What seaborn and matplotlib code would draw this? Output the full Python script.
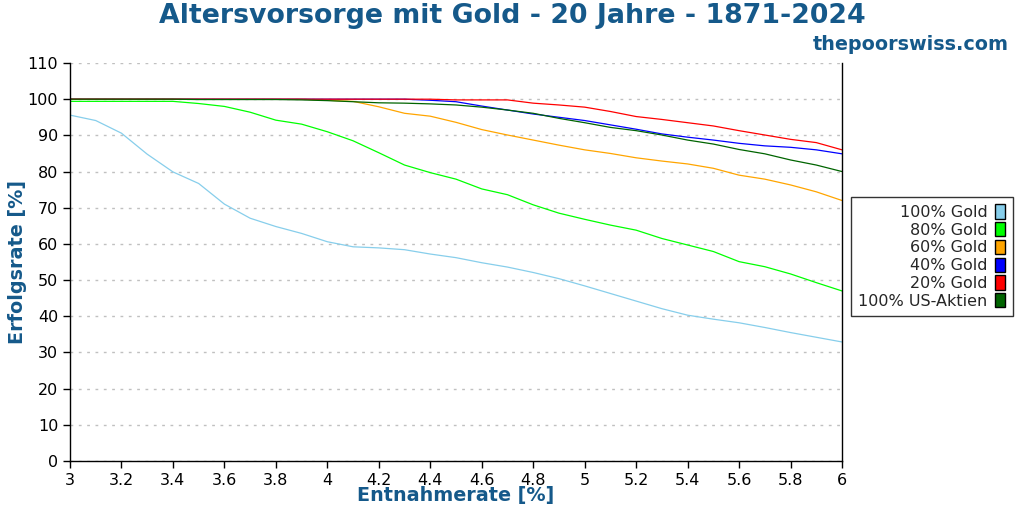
import pandas as pd
import seaborn as sns
import matplotlib.pyplot as plt
from matplotlib.patches import Patch

# Entnahmerate in 0.1 steps
rates = [3.0, 3.1, 3.2, 3.3, 3.4, 3.5, 3.6, 3.7, 3.8, 3.9,
         4.0, 4.1, 4.2, 4.3, 4.4, 4.5, 4.6, 4.7, 4.8, 4.9,
         5.0, 5.1, 5.2, 5.3, 5.4, 5.5, 5.6, 5.7, 5.8, 5.9, 6.0]

gold_100 = [95.6, 94.1, 90.6, 84.8, 79.9, 76.7, 71.0, 67.1, 64.8, 62.9,
            60.6, 59.2, 58.9, 58.4, 57.2, 56.2, 54.8, 53.6, 52.1, 50.4,
            48.4, 46.3, 44.2, 42.1, 40.3, 39.2, 38.2, 36.9, 35.5, 34.2, 32.9]
gold_80 = [99.4, 99.4, 99.4, 99.4, 99.4, 98.8, 98.0, 96.4, 94.2, 93.1,
           91.0, 88.5, 85.2, 81.8, 79.7, 77.9, 75.2, 73.6, 70.8, 68.5,
           66.8, 65.2, 63.8, 61.5, 59.7, 57.9, 55.1, 53.7, 51.7, 49.3, 47.0]
gold_60 = [100, 100, 100, 100, 100, 100, 100, 100, 100, 100,
           99.7, 99.4, 97.9, 96.1, 95.3, 93.6, 91.6, 90.1, 88.7, 87.3,
           86.0, 85.0, 83.8, 82.9, 82.1, 80.9, 79.0, 77.9, 76.3, 74.4, 72.0]
gold_40 = [100, 100, 100, 100, 100, 100, 100, 100, 100, 100,
           100, 100, 100, 100, 99.7, 99.3, 98.1, 97.0, 95.9, 95.0,
           94.1, 92.9, 91.7, 90.4, 89.5, 88.7, 87.8, 87.1, 86.7, 86.0, 84.9]
gold_20 = [100, 100, 100, 100, 100, 100, 100, 100, 100, 100,
           100, 100, 100, 100, 100, 99.8, 99.8, 99.8, 98.9, 98.4,
           97.8, 96.6, 95.2, 94.4, 93.5, 92.6, 91.3, 90.1, 88.9, 88.0, 86.0]
us_stocks = [100, 100, 100, 100, 100, 99.9, 99.9, 99.9, 99.9, 99.8,
             99.6, 99.3, 99.0, 98.9, 98.7, 98.4, 97.8, 97.0, 96.1, 94.7,
             93.5, 92.2, 91.3, 90.1, 88.7, 87.6, 86.1, 84.9, 83.2, 81.8, 80.0]

labels = ["100% Gold", "80% Gold", "60% Gold", "40% Gold", "20% Gold", "100% US-Aktien"]
colors = ["#87ceeb", "#00ff00", "#ffa500", "#0000ff", "#ff0000", "#006400"]
series = [gold_100, gold_80, gold_60, gold_40, gold_20, us_stocks]

frames = []
for name, vals in zip(labels, series):
    frames.append(pd.DataFrame({"rate": rates, "success": vals, "portfolio": name}))
df = pd.concat(frames, ignore_index=True)

sns.set_style("white")
plt.rcParams["font.family"] = ["DejaVu Sans"]

title_col = "#15598a"

fig = plt.figure(figsize=(10.24, 5.12), dpi=100)
ax = fig.add_axes([70 / 1024, 51 / 512, 772 / 1024, 398 / 512])

sns.lineplot(data=df, x="rate", y="success", hue="portfolio", hue_order=labels,
             palette=dict(zip(labels, colors)), linewidth=0.9, legend=False, ax=ax)

ax.set_xlim(3, 6)
ax.set_ylim(0, 110)
ax.set_xticks([3, 3.2, 3.4, 3.6, 3.8, 4, 4.2, 4.4, 4.6, 4.8, 5, 5.2, 5.4, 5.6, 5.8, 6])
ax.set_xticklabels(["3", "3.2", "3.4", "3.6", "3.8", "4", "4.2", "4.4", "4.6", "4.8",
                    "5", "5.2", "5.4", "5.6", "5.8", "6"])
ax.set_yticks(range(0, 111, 10))
ax.tick_params(axis="both", direction="out", length=5, width=1, labelsize=11.5,
               colors="black", bottom=True, left=True)
ax.yaxis.grid(True, linestyle=(0, (2, 4)), color="#c0c0c0", linewidth=1)
ax.xaxis.grid(False)

for side in ["left", "bottom", "right"]:
    ax.spines[side].set_color("black")
    ax.spines[side].set_linewidth(1)
ax.spines["top"].set_visible(False)

ax.set_xlabel("Entnahmerate [%]", fontsize=13.8, fontweight="bold", color=title_col)
ax.set_ylabel("Erfolgsrate [%]", fontsize=13.8, fontweight="bold", color=title_col)
ax.xaxis.set_label_coords(0.5, -35 / 398)
ax.yaxis.set_label_coords(-52 / 772, 0.5)
ax.xaxis.label.set_va("center")
ax.yaxis.label.set_va("center")

fig.text(0.5, 1 - 16 / 512, "Altersvorsorge mit Gold - 20 Jahre - 1871-2024", ha="center", va="center",
         fontsize=19.3, fontweight="bold", color=title_col)
fig.text(1009 / 1024, 1 - 45 / 512, "thepoorswiss.com", ha="right", va="center",
         fontsize=13.8, fontweight="bold", color=title_col)

handles = [Patch(facecolor=c, edgecolor="black", linewidth=1) for c in colors]
leg = fig.legend(handles, labels, loc="center left", bbox_to_anchor=(851 / 1024, 1 - 256.5 / 512),
                 markerfirst=False, fontsize=11.5, frameon=True, fancybox=False,
                 handlelength=0.62, handleheight=1.0, handletextpad=0.5,
                 labelspacing=0.13, borderpad=0.45, borderaxespad=0)
leg.get_frame().set_edgecolor("black")
leg.get_frame().set_linewidth(1)
for t in leg.get_texts():
    t.set_ha("right")

fig.savefig("out.png", dpi=100)
